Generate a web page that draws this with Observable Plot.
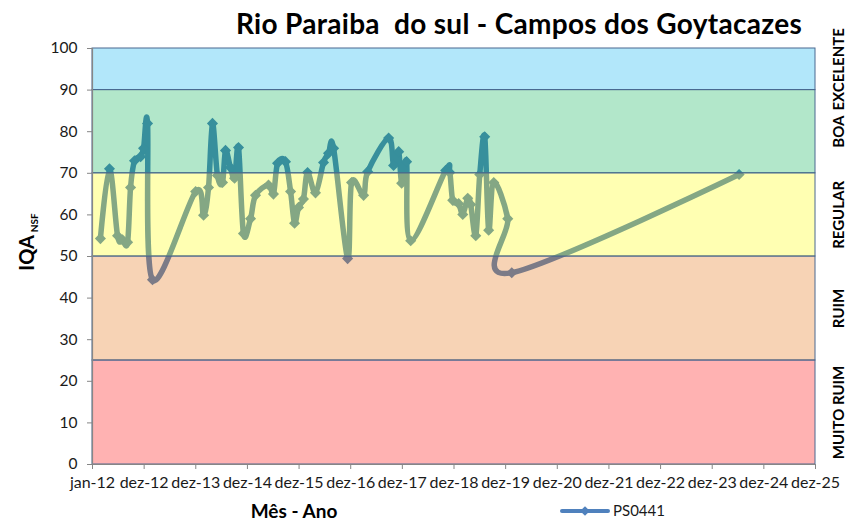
<!DOCTYPE html>
<html>
<head>
<meta charset="utf-8">
<script src="https://cdn.jsdelivr.net/npm/d3@7"></script>
<script src="https://cdn.jsdelivr.net/npm/@observablehq/plot@0.6"></script>
<style>
  html, body { margin: 0; padding: 0; background: #fff; }
  #wrap { position: relative; width: 846px; height: 522px; overflow: hidden; font-family: Lato, "Open Sans", sans-serif; }
  #wrap > svg { position: absolute; left: 0; top: 0; }
  #overlay { position: absolute; left: 0; top: 0; pointer-events: none; }
</style>
</head>
<body>
<div id="wrap"></div>
<script>
// ---- data ----
const sampleDates = [
  "2012-02-26","2012-04-30","2012-06-26","2012-07-31","2012-09-05","2012-09-26","2012-10-24","2012-12-06","2012-12-27","2013-01-24",
  "2013-02-28","2013-12-30","2014-02-24","2014-03-31","2014-04-28","2014-06-02","2014-07-08","2014-07-29","2014-09-02","2014-10-01",
  "2014-10-29","2014-12-03","2015-01-22","2015-02-26","2015-05-29","2015-07-03","2015-08-01","2015-09-26","2015-11-01","2015-11-29",
  "2015-12-27","2016-01-31","2016-02-29","2016-04-25","2016-06-21","2016-07-26","2016-08-31","2016-12-08","2017-01-05","2017-03-31",
  "2017-04-29","2017-09-24","2017-10-29","2017-12-04","2017-12-25","2018-01-29","2018-02-27","2018-11-01","2018-11-30","2018-12-21",
  "2019-02-01","2019-03-02","2019-04-06","2019-04-27","2019-06-02","2019-06-30","2019-08-04","2019-09-01","2019-10-07","2020-01-14",
  "2020-02-11","2024-07-06"
];
const iqaValues = [
  54.3, 71.1, 55.0, 54.0, 53.4, 66.6, 73.0, 74.0, 76.0, 82.0,
  44.4, 65.6, 59.9, 66.6, 82.0, 69.5, 67.8, 75.5, 71.4, 68.8,
  76.2, 55.5, 59.1, 64.7, 67.2, 65.0, 72.4, 72.8, 65.6, 58.0,
  61.8, 63.8, 70.2, 65.3, 72.6, 74.8, 76.0, 49.5, 67.8, 64.7,
  70.4, 78.5, 71.9, 75.2, 67.6, 72.8, 53.8, 70.7, 70.2, 63.5,
  62.7, 60.1, 64.0, 62.5, 55.0, 69.7, 78.8, 56.3, 67.8, 59.1,
  46.1, 69.7
];
const seriesName = "PS0441";

const bandLabels = ["MUITO RUIM", "RUIM", "REGULAR", "BOA", "EXCELENTE"];
const bandLow    = [0, 25, 50, 70, 90];
const bandHigh   = [25, 50, 70, 90, 100];
const bandColors = ["#ff0000", "#e46c0a", "#ffff00", "#00b050", "#00b0f0"];

const xTickDates  = ["2012-01-01","2012-12-31","2013-12-31","2014-12-31","2015-12-31","2016-12-30","2017-12-30",
                     "2018-12-30","2019-12-30","2020-12-29","2021-12-29","2022-12-29","2023-12-29","2024-12-28","2025-12-28"];
const xTickLabels = ["jan-12","dez-12","dez-13","dez-14","dez-15","dez-16","dez-17",
                     "dez-18","dez-19","dez-20","dez-21","dez-22","dez-23","dez-24","dez-25"];
const yTicks = [0, 10, 20, 30, 40, 50, 60, 70, 80, 90, 100];

const titleText = "Rio Paraiba\u00a0 do sul - Campos dos Goytacazes";
const yTitle = "IQA";
const yTitleSub = "NSF";
const xTitle = "Mês - Ano";

// ---- build tables ----
const series = sampleDates.map((d, i) => ({date: new Date(d + "T00:00:00Z"), iqa: iqaValues[i]}));
const bands = bandLabels.map((label, i) => ({label, lo: bandLow[i], hi: bandHigh[i], color: bandColors[i]}));
const tickDates = xTickDates.map(d => new Date(d + "T00:00:00Z"));
const labelOf = new Map(tickDates.map((d, i) => [+d, xTickLabels[i]]));
const xDomain = [tickDates[0], tickDates[tickDates.length - 1]];

const lineColor = "#4f81bd";
const axisGray = "#868686";

const chart = Plot.plot({
  width: 846,
  height: 522,
  marginLeft: 92,
  marginRight: 31,
  marginTop: 48,
  marginBottom: 58,
  style: {fontFamily: "Lato, 'Open Sans', sans-serif", fontSize: "15px", color: "#1a1a1a", background: "transparent"},
  x: {type: "utc", domain: xDomain},
  y: {domain: [0, 100]},
  color: {type: "identity"},
  marks: [
    Plot.line(series, {x: "date", y: "iqa", stroke: lineColor, strokeWidth: 5.5, curve: "cardinal"}),
    Plot.dot(series, {x: "date", y: "iqa", symbol: "diamond2", r: 5, fill: lineColor, stroke: "none"}),
    Plot.rect(bands, {y1: "lo", y2: "hi", fill: "color", fillOpacity: 0.3, stroke: "#4a6890", strokeWidth: 1}),
    Plot.ruleX([xDomain[0]], {stroke: axisGray, strokeWidth: 1.2}),
    Plot.ruleY([0], {stroke: axisGray, strokeWidth: 1.2}),
    Plot.axisY({ticks: yTicks, tickSize: 5, tickPadding: 10, stroke: axisGray, fill: "#1a1a1a", fontSize: 15.5, label: null}),
    Plot.axisX({ticks: tickDates, tickFormat: d => labelOf.get(+d), tickSize: 5, tickPadding: 7, stroke: axisGray, fill: "#1a1a1a", fontSize: 16, label: null}),
    Plot.text(bands, {y: d => (d.lo + d.hi) / 2, text: "label", frameAnchor: "right", dx: 28, rotate: -90,
      textAnchor: "middle", lineAnchor: "bottom", fontWeight: "bold", fontSize: 15, fill: "#000"})
  ]
});

const wrap = document.getElementById("wrap");
wrap.appendChild(chart);

// ---- titles and legend (outside the plot frame) ----
const ov = d3.select(wrap).append("svg").attr("id", "overlay").attr("width", 846).attr("height", 522)
  .style("font-family", "Lato, 'Open Sans', sans-serif");

ov.append("text").attr("x", 519).attr("y", 34).attr("text-anchor", "middle")
  .style("font-size", "28px").style("font-weight", "bold").style("letter-spacing", "0.3px").attr("fill", "#000").text(titleText);

const yt = ov.append("text").attr("transform", "translate(34,242) rotate(-90)").attr("text-anchor", "middle")
  .style("font-weight", "bold").attr("fill", "#000");
yt.append("tspan").style("font-size", "20px").text(yTitle);
yt.append("tspan").style("font-size", "10px").attr("dx", 3).attr("dy", 4).text(yTitleSub);

ov.append("text").attr("x", 294).attr("y", 518).attr("text-anchor", "middle")
  .style("font-size", "19px").style("font-weight", "bold").attr("fill", "#000").text(xTitle);

const lg = ov.append("g").attr("transform", "translate(562,511)");
lg.append("line").attr("x1", 0).attr("x2", 46).attr("y1", 0).attr("y2", 0).attr("stroke", lineColor).attr("stroke-width", 4).attr("stroke-linecap", "round");
lg.append("path").attr("d", d3.symbol(d3.symbolDiamond2, 60)()).attr("transform", "translate(23,0)").attr("fill", lineColor);
lg.append("text").attr("x", 51).attr("y", 0).attr("dy", "0.35em").style("font-size", "15px").attr("fill", "#1a1a1a").text(seriesName);
</script>
</body>
</html>
